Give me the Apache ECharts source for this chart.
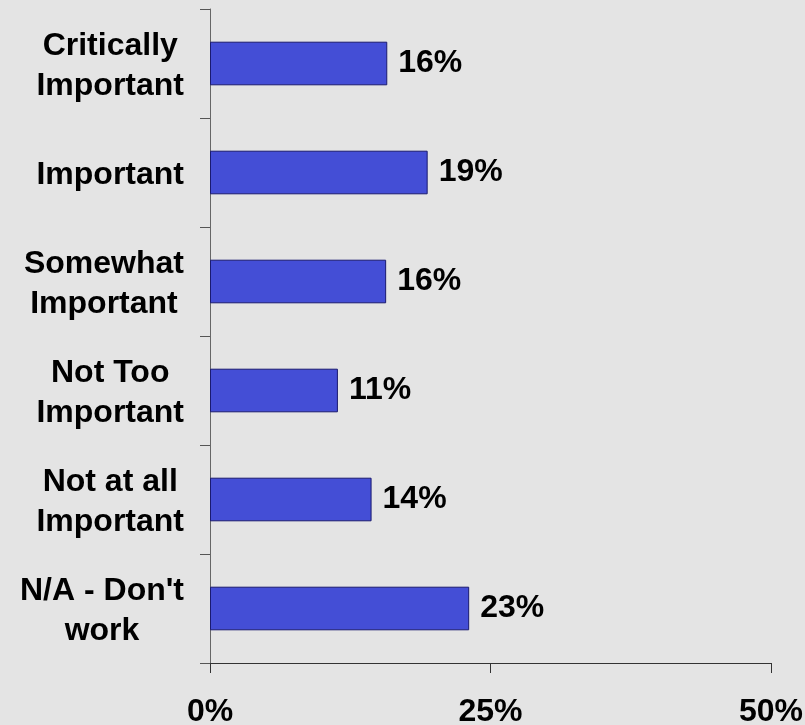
<!DOCTYPE html>
<html>
<head>
<meta charset="utf-8">
<script src="https://cdn.jsdelivr.net/npm/echarts@6/dist/echarts.min.js"></script>
<style>
    html, body { margin: 0; padding: 0; background: #e4e4e4; }
    #chart { width: 805px; height: 725px; }
</style>
</head>
<body>
<div id="chart"></div>
<script>
// categories, top to bottom (each line of the label split by \n)
var categories = [
    'Critically\nImportant',
    'Important',
    'Somewhat\nImportant',
    'Not Too\nImportant',
    'Not at all\nImportant',
    "N/A - Don't\nwork"
];
// percent of respondents
var values = [15.8, 19.4, 15.7, 11.4, 14.4, 23.1];
// x axis ticks
var xTicks = [0, 25, 50];

var font = '"Liberation Sans", Arial, sans-serif';

var myChart = echarts.init(document.getElementById('chart'));
var option = {
    backgroundColor: '#e4e4e4',
    animation: false,
    grid: {
        left: 210,
        right: 34,
        top: 9,
        bottom: 62,
        outerBoundsMode: 'none'
    },
    xAxis: {
        type: 'value',
        min: xTicks[0],
        max: xTicks[xTicks.length - 1],
        interval: xTicks[1] - xTicks[0],
        splitLine: { show: false },
        axisLine: { show: true, lineStyle: { color: '#333', width: 1 } },
        axisTick: { show: true, length: 10, lineStyle: { color: '#333' } },
        axisLabel: {
            margin: 33,
            formatter: '{value}%',
            color: '#000',
            fontFamily: font,
            fontWeight: 'bold',
            fontSize: 32
        }
    },
    yAxis: {
        type: 'category',
        inverse: true,
        data: categories,
        axisLine: { show: true, lineStyle: { color: '#666', width: 1 } },
        axisTick: { show: true, length: 10, lineStyle: { color: '#555' } },
        axisLabel: {
            margin: 26,
            padding: [6, 0, 0, 0],
            color: '#000',
            fontFamily: font,
            fontWeight: 'bold',
            fontSize: 32,
            lineHeight: 40,
            // center each line inside the right-aligned block
            formatter: function (v) {
                return v.split('\n').map(function (s) { return '{c|' + s + '}'; }).join('\n');
            },
            rich: {
                c: {
                    align: 'center',
                    color: '#000',
                    fontFamily: font,
                    fontWeight: 'bold',
                    fontSize: 32,
                    lineHeight: 40
                }
            }
        }
    },
    series: [
        {
            type: 'bar',
            data: values,
            barWidth: '40%',
            itemStyle: {
                color: '#444ed6',
                borderColor: '#1a1a70',
                borderWidth: 1
            },
            label: {
                show: true,
                position: 'right',
                distance: 11,
                color: '#000',
                fontFamily: font,
                fontWeight: 'bold',
                fontSize: 32,
                formatter: function (p) {
                    return Math.round(p.value) + '%';
                }
            }
        }
    ]
};
myChart.setOption(option);
</script>
</body>
</html>
